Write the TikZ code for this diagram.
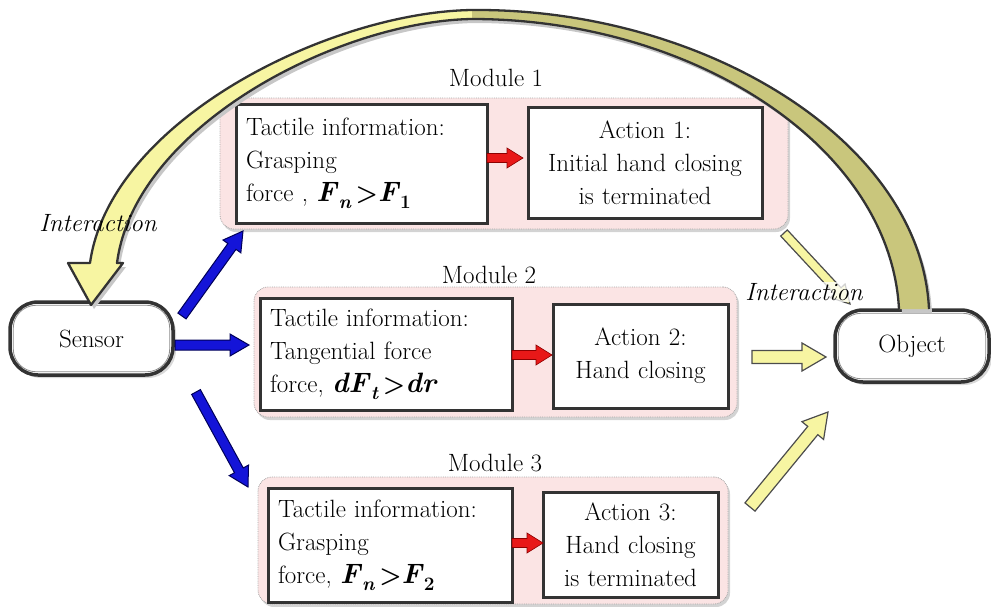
\documentclass[tikz,border=0pt]{standalone}
\usepackage{fontspec}
\usetikzlibrary{calc,shadows}
\definecolor{pinkbg}{HTML}{FBE4E4}
\definecolor{lyel}{HTML}{F7F5A2}
\definecolor{arcolive}{HTML}{C9C67C}
\definecolor{bluearr}{HTML}{1414D8}
\definecolor{redarr}{HTML}{E81818}
\definecolor{edgec}{HTML}{333333}
\newcommand\bi[1]{{\fontsize{28}{33}\selectfont\textbf{\textit{#1}}}}
\newcommand\subsc[1]{\raisebox{-7pt}{\fontsize{19}{19}\selectfont\textbf{#1}}}
% fat arrow: #1 start, #2 end, #3 half shaft, #4 half head, #5 head length, #6 style
\newcommand\fatarr[6]{%
  \coordinate (fahb) at ($(#2)!#5!(#1)$);
  \path[#6] ($(#1)!#3!90:(#2)$) -- ($(fahb)!#3!90:(#2)$) -- ($(fahb)!#4!90:(#2)$)
    -- (#2) -- ($(fahb)!#4!-90:(#2)$) -- ($(fahb)!#3!-90:(#2)$)
    -- ($(#1)!#3!-90:(#2)$) -- cycle;}
\tikzset{
  modbg/.style={rectangle, rounded corners=14pt, fill=pinkbg, draw=black!35,
    densely dotted, line width=0.8pt,
    drop shadow={shadow xshift=2pt, shadow yshift=-3pt, opacity=0.35}},
  infobox/.style={rectangle, draw=edgec, line width=3pt, fill=white,
    inner xsep=10pt, inner ysep=2pt, align=left,
    drop shadow={shadow xshift=2pt, shadow yshift=-2pt, opacity=0.25}},
  actbox/.style={rectangle, draw=edgec, line width=3pt, fill=white,
    inner xsep=6pt, inner ysep=2pt, align=center,
    drop shadow={shadow xshift=2pt, shadow yshift=-2pt, opacity=0.25}},
  term/.style={rectangle, rounded corners=28pt, draw=edgec, line width=3.5pt,
    fill=white, drop shadow={shadow xshift=3pt, shadow yshift=-3pt, opacity=0.3}},
  bluearrow/.style={fill=bluearr, draw=blue!35!black, line width=1pt},
  redarrow/.style={fill=redarr, draw=red!55!black, line width=0.6pt},
  yelarrow/.style={fill=lyel, draw=black!70, line width=1.2pt},
  modlabel/.style={inner sep=0pt},
  interlabel/.style={font=\fontsize{25}{33}\selectfont\itshape, inner sep=1pt}
}
\begin{document}
\begin{tikzpicture}[x=1pt, y=-1pt, font=\fontsize{25}{33}\selectfont]
\useasboundingbox (0,0) rectangle (991,606);

% module backgrounds
\node[modbg, minimum width=568pt, minimum height=131pt] (m1) at (504,163.5) {};
\node[modbg, minimum width=483pt, minimum height=130pt] (m2) at (495.5,352) {};
\node[modbg, minimum width=470pt, minimum height=127pt] (m3) at (493,540.5) {};

\node[modlabel] (l1) at (496,78) {Module 1};
\node[modlabel] (l2) at (489,275) {Module 2};
\node[modlabel] (l3) at (495,463) {Module 3};

% info boxes
\node[infobox, text width=231pt, minimum height=119pt] (t1) at (361.5,163.5)
  {Tactile information:\\Grasping\\force , \bi{F}\subsc{\textit{n}}\,\textbf{>}\bi{F}\subsc{1}};
\node[actbox, text width=222pt, minimum height=111pt] (a1) at (645,162.5)
  {Action 1:\\Initial hand closing\\is terminated};
\node[infobox, text width=232pt, minimum height=112pt] (t2) at (386,354)
  {Tactile information:\\Tangential force\\force, \bi{dF}\subsc{\textit{t}}\,\textbf{>}\bi{dr}};
\node[actbox, text width=163pt, minimum height=104pt] (a2) at (640.5,356)
  {Action 2:\\Hand closing};
\node[infobox, text width=224pt, minimum height=114pt] (t3) at (390,545)
  {Tactile information:\\Grasping\\force, \bi{F}\subsc{\textit{n}}\,\textbf{>}\bi{F}\subsc{2}};
\node[actbox, text width=163pt, minimum height=105pt] (a3) at (630.5,544.5)
  {Action 3:\\Hand closing\\is terminated};

% sensor and object
\node[term, minimum width=163pt, minimum height=73pt] (sensor) at (91.5,338.5) {Sensor};
\draw[black!45, line width=0.8pt, rounded corners=23pt]
  ([shift={(5,5)}]sensor.north west) rectangle ([shift={(-5,-5)}]sensor.south east);
\node[term, minimum width=154pt, minimum height=72pt] (object) at (912,346) {Object};
\draw[black!45, line width=0.8pt, rounded corners=23pt]
  ([shift={(5,5)}]object.north west) rectangle ([shift={(-5,-5)}]object.south east);

% red arrows
\coordinate (r1s) at (487,158); \coordinate (r1e) at (523,158);
\coordinate (r2s) at (512,355); \coordinate (r2e) at (552,355);
\coordinate (r3s) at (512,543); \coordinate (r3e) at (543,543);
\fatarr{r1s}{r1e}{4.5pt}{10pt}{16pt}{redarrow}
\fatarr{r2s}{r2e}{4.5pt}{10pt}{16pt}{redarrow}
\fatarr{r3s}{r3e}{4.5pt}{10pt}{16pt}{redarrow}

% blue arrows
\coordinate (b1s) at (182,316); \coordinate (b1e) at (243,231);
\coordinate (b2s) at (175,345); \coordinate (b2e) at (249,345);
\coordinate (b3s) at (196,392); \coordinate (b3e) at (248,487);
\fatarr{b1s}{b1e}{5pt}{11pt}{19pt}{bluearrow}
\fatarr{b2s}{b2e}{5pt}{11pt}{19pt}{bluearrow}
\fatarr{b3s}{b3e}{5pt}{11pt}{19pt}{bluearrow}

% yellow arrows to object
\coordinate (y1s) at (784,233); \coordinate (y1e) at (850,304);
\coordinate (y2s) at (752,357); \coordinate (y2e) at (826,357);
\coordinate (y3s) at (750,507); \coordinate (y3e) at (828,412);
\fatarr{y1s}{y1e}{4.5pt}{10pt}{18pt}{yelarrow}
\fatarr{y2s}{y2e}{6.5pt}{14pt}{24pt}{yelarrow}
\fatarr{y3s}{y3e}{6.5pt}{14pt}{24pt}{yelarrow}

% big curved feedback arrow (object -> sensor)
\coordinate (ctop) at (472,10);
\coordinate (ctopi) at (472,19);
\coordinate (cobjo) at (929,309);
\coordinate (cobji) at (899,309);
\coordinate (csens) at (91,305);
\fill[black!22] ([shift={(3,4)}]cobjo) .. controls (924,144) and (705,12) .. ([shift={(3,4)}]ctop)
  .. controls (333,16) and (113,124) .. (93,267) -- (71,267) -- (94,309) -- (126,267) -- (120,267)
  .. controls (138,129) and (343,25) .. ([shift={(3,4)}]ctopi)
  .. controls (695,23) and (893,149) .. ([shift={(3,4)}]cobji) -- cycle;
\fill[lyel] (ctop) .. controls (330,12) and (110,120) .. (90,263) -- (68,263) -- (csens)
  -- (123,263) -- (117,263) .. controls (135,125) and (340,21) .. (ctopi) -- cycle;
\fill[arcolive] (ctop) .. controls (702,8) and (921,140) .. (cobjo) -- (cobji)
  .. controls (890,145) and (692,19) .. (ctopi) -- cycle;
\draw[edgec, line width=2.3pt, line join=round]
  (cobjo) .. controls (921,140) and (702,8) .. (ctop)
  .. controls (330,12) and (110,120) .. (90,263) -- (68,263) -- (csens)
  -- (123,263) -- (117,263) .. controls (135,125) and (340,21) .. (ctopi)
  .. controls (692,19) and (890,145) .. (cobji);

% interaction labels
\node[interlabel] (i1) at (98,223) {Interaction};
\node[interlabel, fill=white, fill opacity=0.75, text opacity=1] (i2) at (804,292) {Interaction};
\end{tikzpicture}
\end{document}
